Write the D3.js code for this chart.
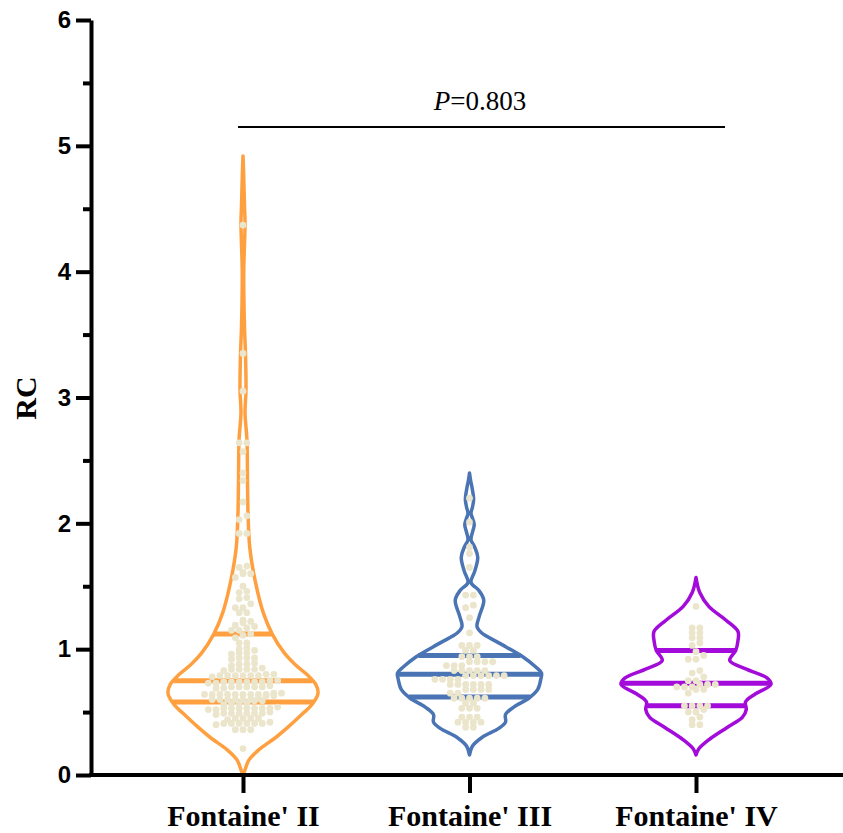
<!DOCTYPE html>
<html>
<head>
<meta charset="utf-8">
<script src="https://cdn.jsdelivr.net/npm/d3@7"></script>
<style>
  body { margin: 0; background: #fff; }
  svg { display: block; }
</style>
</head>
<body>
<svg></svg>
<script>
var width = 843;
var height = 833;

var groups = ["Fontaine' II", "Fontaine' III", "Fontaine' IV"];
var colors = ["#ffa040", "#4a74b4", "#a20bd9"];
var yTicks = [0, 1, 2, 3, 4, 5, 6];
var yMinorTicks = [0.5, 1.5, 2.5, 3.5, 4.5, 5.5];
var pLabel = "0.803";

// quartiles [Q1, median, Q3]
var quartII = [0.58, 0.75, 1.12];
var quartIII = [0.62, 0.80, 0.95];
var quartIV = [0.55, 0.73, 0.99];

// violin outlines: [value, relative density]
var densII = [[0.00, 0], [0.03, 0.02], [0.12, 0.08], [0.20, 0.21], [0.30, 0.44], [0.38, 0.60],
  [0.49, 0.80], [0.56, 0.92], [0.65, 1.00], [0.72, 0.97], [0.80, 0.85], [0.88, 0.69],
  [0.97, 0.55], [1.12, 0.39], [1.29, 0.27], [1.55, 0.16], [1.81, 0.09], [2.08, 0.067],
  [2.34, 0.06], [2.66, 0.053], [2.88, 0.027], [3.06, 0.04], [3.35, 0.033], [3.56, 0.02],
  [3.99, 0.01], [4.39, 0.027], [4.52, 0.02], [4.79, 0.008], [4.92, 0]];
var densIII = [[0.16, 0], [0.23, 0.04], [0.30, 0.17], [0.37, 0.39], [0.42, 0.48], [0.48, 0.48],
  [0.54, 0.59], [0.61, 0.79], [0.68, 0.91], [0.76, 0.95], [0.81, 0.96], [0.86, 0.88],
  [0.94, 0.71], [1.05, 0.39], [1.13, 0.16], [1.18, 0.10], [1.26, 0.13], [1.39, 0.19],
  [1.47, 0.12], [1.53, 0.02], [1.62, 0.07], [1.73, 0.11], [1.81, 0.07], [1.87, 0.02],
  [1.93, 0.04], [1.99, 0.063], [2.04, 0.04], [2.08, 0.02], [2.13, 0.04], [2.19, 0.055],
  [2.28, 0.035], [2.34, 0.015], [2.40, 0]];
var densIV = [[0.16, 0], [0.21, 0.04], [0.28, 0.17], [0.38, 0.42], [0.46, 0.62], [0.52, 0.67],
  [0.58, 0.66], [0.64, 0.78], [0.72, 1.00], [0.77, 0.95], [0.84, 0.68], [0.91, 0.45],
  [0.99, 0.53], [1.07, 0.56], [1.14, 0.56], [1.23, 0.40], [1.34, 0.17], [1.45, 0.05], [1.57, 0]];

// individual RC values
var valsII = [4.37, 3.35, 3.05, 2.64, 2.64, 2.57, 2.40, 2.34, 2.17, 2.06, 2.03, 1.92, 1.92,
  1.66, 1.65, 1.61, 1.60, 1.60, 1.57, 1.50, 1.46, 1.45, 1.41, 1.40, 1.36, 1.33, 1.33,
  1.29, 1.29, 1.23, 1.22, 1.21, 1.19, 1.18, 1.17, 1.15, 1.15, 1.12, 1.11, 1.09, 1.05, 1.05,
  1.01, 1.00, 0.99, 0.97, 0.97, 0.96, 0.93, 0.93, 0.92, 0.93, 0.89, 0.88, 0.88, 0.87,
  0.85, 0.84, 0.84, 0.84, 0.83, 0.84, 0.80, 0.79, 0.79, 0.79, 0.79, 0.78, 0.79, 0.80, 0.79,
  0.74, 0.75, 0.74, 0.74, 0.73, 0.74, 0.75, 0.74, 0.74, 0.73,
  0.70, 0.70, 0.69, 0.70, 0.71, 0.70, 0.70, 0.69,
  0.64, 0.64, 0.65, 0.64, 0.63, 0.64, 0.64, 0.65, 0.64, 0.64, 0.63, 0.64, 0.64,
  0.60, 0.60, 0.59, 0.60, 0.61, 0.60, 0.60, 0.59, 0.60,
  0.57, 0.57, 0.56, 0.57,
  0.53, 0.53, 0.52, 0.53, 0.54, 0.53, 0.53, 0.52, 0.53, 0.53,
  0.49, 0.49, 0.48, 0.49, 0.49, 0.50, 0.49, 0.49,
  0.45, 0.45, 0.44, 0.45, 0.45,
  0.41, 0.41, 0.40, 0.41, 0.41, 0.42, 0.41, 0.41,
  0.36, 0.36, 0.36, 0.21];
var valsIII = [2.20, 2.01, 1.81, 1.76, 1.65, 1.43, 1.43, 1.35, 1.33, 1.25, 1.13,
  1.03, 1.03, 1.03, 0.99, 0.99, 0.94, 0.94, 0.94, 0.90, 0.90, 0.90, 0.90, 0.87, 0.87, 0.87,
  0.83, 0.83, 0.83, 0.83, 0.83, 0.79, 0.79, 0.79, 0.79, 0.79, 0.79, 0.76, 0.76, 0.76, 0.76,
  0.72, 0.72, 0.72, 0.72, 0.72, 0.72, 0.68, 0.68, 0.68, 0.68, 0.65, 0.65,
  0.61, 0.61, 0.61, 0.61, 0.61, 0.57, 0.57, 0.53, 0.53, 0.53, 0.46, 0.46, 0.46,
  0.42, 0.42, 0.42, 0.42, 0.38, 0.38];
var valsIV = [1.34, 1.17, 1.17, 1.13, 1.13, 1.09, 1.09, 1.05, 1.03, 0.98, 0.95, 0.92, 0.92,
  0.83, 0.81, 0.78, 0.75, 0.75, 0.72, 0.72, 0.72, 0.70, 0.70, 0.70, 0.68, 0.68, 0.65,
  0.55, 0.55, 0.55, 0.55, 0.52, 0.50, 0.50, 0.46, 0.44, 0.40, 0.40];

var quarts = [quartII, quartIII, quartIV];
var dens = [densII, densIII, densIV];
var vals = [valsII, valsIII, valsIV];

var svg = d3.select("svg")
  .attr("width", width)
  .attr("height", height);

var yScale = d3.scaleLinear().domain([0, 6]).range([775, 20]);
var xScale = d3.scalePoint().domain(groups).range([243, 696]);
var wScale = d3.scaleLinear().domain([0, 1]).range([0, 75]);

// width of the violin at a value, by linear interpolation of the outline
function widthAt(profile, v) {
  for (var i = 1; i < profile.length; i++) {
    if (v <= profile[i][0]) {
      var a = profile[i - 1], b = profile[i];
      var t = (v - a[0]) / (b[0] - a[0]);
      return a[1] + t * (b[1] - a[1]);
    }
  }
  return 0;
}

// GraphPad-like rows: near-equal values share a row, centred on the category
function layoutDots(values) {
  var sorted = values.slice().sort(d3.ascending);
  var rows = [];
  sorted.forEach(function(v) {
    var row = rows[rows.length - 1];
    if (row && v - row[0] < 0.035) row.push(v);
    else rows.push([v]);
  });
  var out = [];
  rows.forEach(function(row) {
    row.forEach(function(v, i) {
      out.push({ v: v, k: i - (row.length - 1) / 2 });
    });
  });
  return out;
}

groups.forEach(function(g, gi) {
  var cx = xScale(g);
  var col = colors[gi];
  var layer = svg.append("g");

  var area = d3.area()
    .curve(d3.curveCatmullRom)
    .y(d => yScale(d[0]))
    .x0(d => cx - wScale(d[1]))
    .x1(d => cx + wScale(d[1]));

  layer.append("path")
    .datum(dens[gi])
    .attr("d", area)
    .attr("fill", "none")
    .attr("stroke", col)
    .attr("stroke-width", 3.5)
    .attr("stroke-linejoin", "round");

  layer.selectAll("line.q")
    .data(quarts[gi])
    .enter()
    .append("line")
    .attr("class", "q")
    .attr("x1", d => cx - wScale(widthAt(dens[gi], d)))
    .attr("x2", d => cx + wScale(widthAt(dens[gi], d)))
    .attr("y1", d => yScale(d))
    .attr("y2", d => yScale(d))
    .attr("stroke", col)
    .attr("stroke-width", 5);

  layer.selectAll("circle")
    .data(layoutDots(vals[gi]))
    .enter()
    .append("circle")
    .attr("cx", d => cx + d.k * 7.7)
    .attr("cy", d => yScale(d.v))
    .attr("r", 3.4)
    .attr("fill", "#ebe5cc");
});

// y axis
var yAxis = svg.append("g")
  .attr("transform", "translate(91,0)")
  .call(d3.axisLeft(yScale)
    .tickValues(yTicks)
    .tickFormat(d3.format("d"))
    .tickSize(15)
    .tickSizeOuter(0)
    .tickPadding(5));

yAxis.select(".domain").attr("stroke-width", 4);
yAxis.selectAll(".tick line").attr("stroke-width", 4);
yAxis.selectAll(".tick text")
  .attr("font-family", "'Liberation Sans', Arial, sans-serif")
  .attr("font-weight", "bold")
  .attr("font-size", 24)
  .attr("fill", "#000");

var yMinor = svg.append("g")
  .attr("transform", "translate(91,0)")
  .call(d3.axisLeft(yScale)
    .tickValues(yMinorTicks)
    .tickFormat("")
    .tickSize(8)
    .tickSizeOuter(0));
yMinor.select(".domain").remove();
yMinor.selectAll(".tick line").attr("stroke-width", 4);

// x axis
svg.append("line")
  .attr("x1", 89)
  .attr("x2", width)
  .attr("y1", yScale(0))
  .attr("y2", yScale(0))
  .attr("stroke", "#000")
  .attr("stroke-width", 4);

var xAxis = svg.append("g")
  .attr("transform", "translate(0," + yScale(0) + ")")
  .call(d3.axisBottom(xScale).tickSize(18).tickPadding(12).tickSizeOuter(0));
xAxis.select(".domain").remove();
xAxis.selectAll(".tick line").attr("stroke-width", 4);
xAxis.selectAll(".tick text")
  .attr("font-family", "'Liberation Serif', 'Times New Roman', serif")
  .attr("font-weight", "bold")
  .attr("font-size", 30)
  .attr("fill", "#000");

// y label
svg.append("text")
  .attr("transform", "translate(36,398) rotate(-90)")
  .attr("text-anchor", "middle")
  .attr("font-family", "'Liberation Serif', 'Times New Roman', serif")
  .attr("font-weight", "bold")
  .attr("font-size", 30)
  .text("RC");

// significance bar
svg.append("line")
  .attr("x1", xScale(groups[0]) - 5)
  .attr("x2", xScale(groups[2]) + 29)
  .attr("y1", 127)
  .attr("y2", 127)
  .attr("stroke", "#000")
  .attr("stroke-width", 1.8);

var pText = svg.append("text")
  .attr("x", 480)
  .attr("y", 110)
  .attr("text-anchor", "middle")
  .attr("font-family", "'Liberation Serif', 'Times New Roman', serif")
  .attr("font-size", 27);
pText.append("tspan").attr("font-style", "italic").text("P");
pText.append("tspan").text("=" + pLabel);
</script>
</body>
</html>
